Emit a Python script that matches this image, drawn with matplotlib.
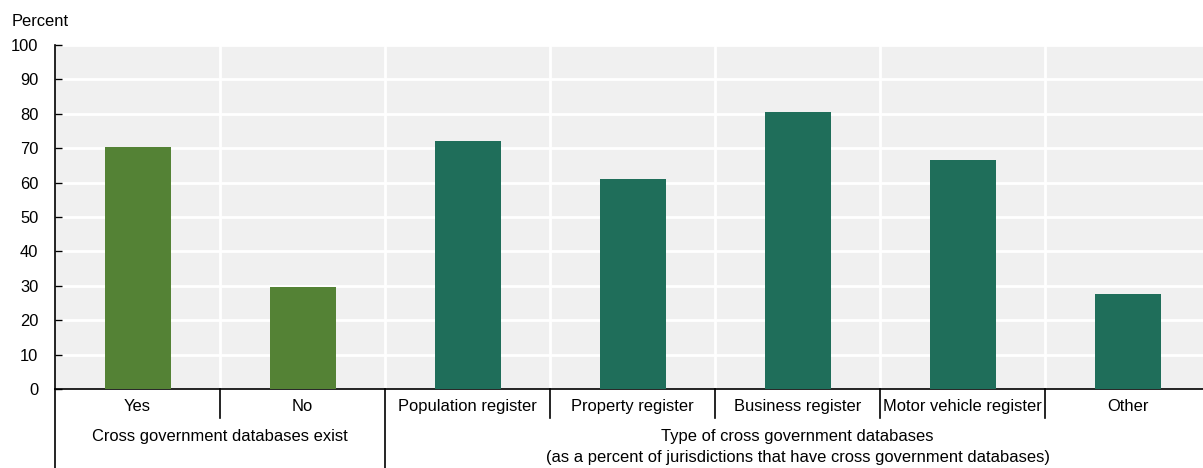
import matplotlib.pyplot as plt
import matplotlib.transforms as mtransforms

plt.rcParams['font.family'] = ['Liberation Sans', 'DejaVu Sans']

categories = ['Yes', 'No', 'Population register', 'Property register',
              'Business register', 'Motor vehicle register', 'Other']
values = [70.4, 29.6, 72.2, 61.0, 80.6, 66.6, 27.7]
bar_colors = ['#548235', '#548235', '#1f6e5a', '#1f6e5a', '#1f6e5a', '#1f6e5a', '#1f6e5a']
groups = ['Cross government databases exist',
          'Type of cross government databases\n(as a percent of jurisdictions that have cross government databases)']
group_spans = [(0, 1), (2, 6)]

FS = 11.9
W, H = 1203, 468
fig = plt.figure(figsize=(W / 100, H / 100), dpi=100)
ax = fig.add_axes([55 / W, 79 / H, 1155 / W, 344 / H])
ax.set_facecolor('#f0f0f0')

x = list(range(len(categories)))
ax.bar(x, values, width=0.4, color=bar_colors, zorder=3)

ax.set_xlim(-0.5, len(categories) - 0.5)
ax.set_ylim(0, 100)
ax.set_yticks(range(0, 101, 10))
ax.tick_params(axis='y', direction='in', length=5, width=1, labelsize=FS, pad=12)
ax.set_xticks([])

# white grid: horizontal at ticks, vertical at category borders
for yv in range(10, 101, 10):
    ax.axhline(yv, color='white', lw=2, zorder=1)
for xb in range(1, len(categories)):
    ax.axvline(xb - 0.5, color='white', lw=2, zorder=1)

for s in ['top', 'right']:
    ax.spines[s].set_visible(False)
ax.spines['left'].set_linewidth(1.2)
ax.spines['bottom'].set_linewidth(1.2)

trans = mtransforms.blended_transform_factory(ax.transData, ax.transAxes)

# first-level labels
for xi, lab in zip(x, categories):
    ax.text(xi, -0.052, lab, transform=trans, ha='center', va='center', fontsize=FS)

# separators
group_starts = [s for s, e in group_spans]
for xb in range(0, len(categories)):
    b = xb - 0.5
    if xb in group_starts:
        ax.plot([b, b], [0, -0.24], transform=trans, color='black', lw=1.2, clip_on=False)
    else:
        ax.plot([b, b], [0, -0.085], transform=trans, color='black', lw=1.2, clip_on=False)

# second-level labels
for (s, e), g in zip(group_spans, groups):
    ax.text((s + e) / 2, -0.115, g, transform=trans, ha='center', va='top',
            fontsize=FS, linespacing=1.55)

fig.text(12 / W, 1 - 22 / H, 'Percent', ha='left', va='center', fontsize=FS)

fig.savefig('out.png', dpi=100)
